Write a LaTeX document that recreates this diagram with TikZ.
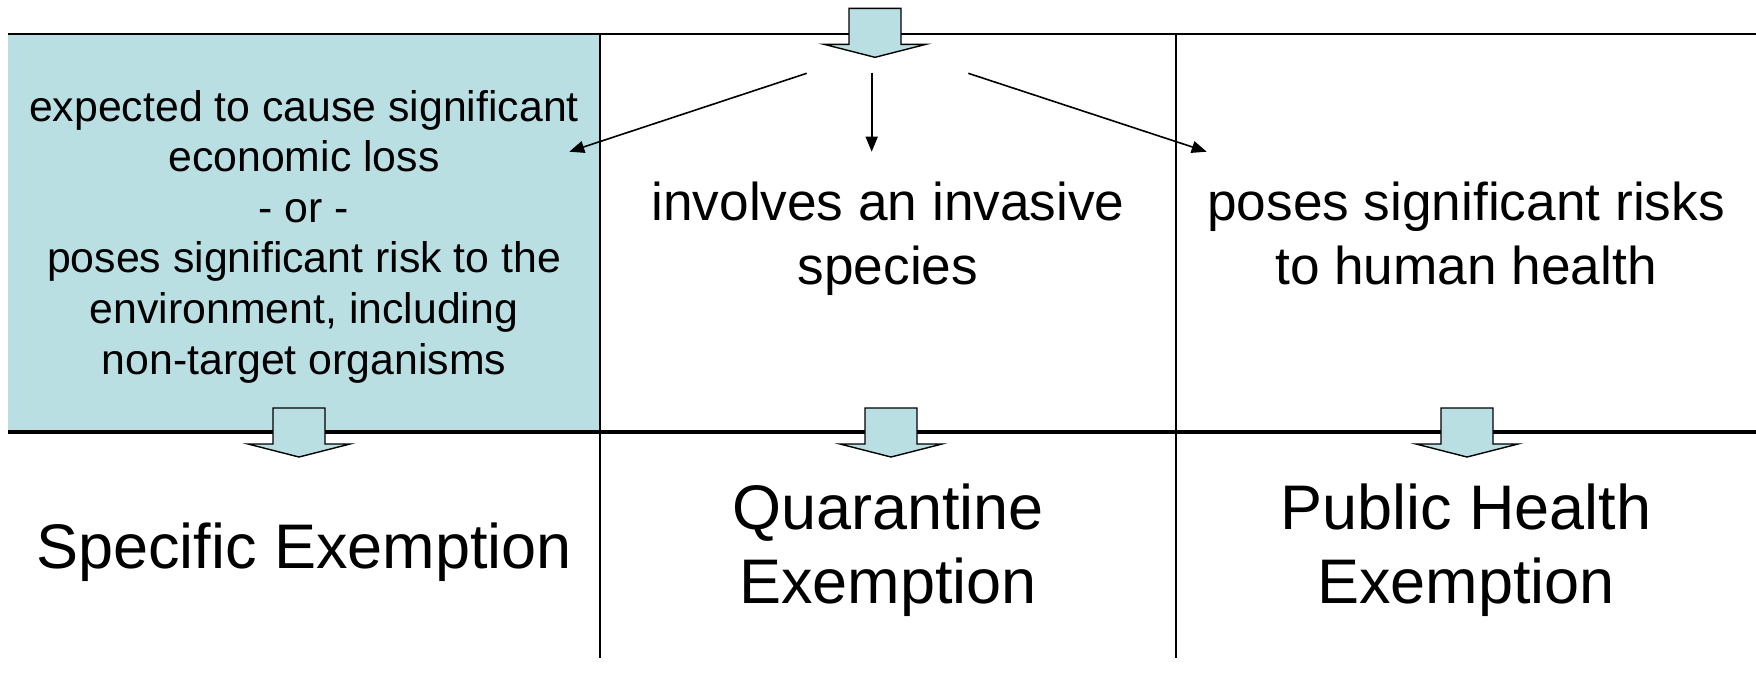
\documentclass[tikz,border=0pt]{standalone}
\usepackage{fontspec}
\setmainfont{Liberation Sans}
\usetikzlibrary{arrows.meta}
\definecolor{boxteal}{RGB}{185,223,227}
\begin{document}
\begin{tikzpicture}[x=0.5pt,y=-0.5pt,
  blockarrow/.style={draw=black, line width=0.7pt, fill=boxteal, line join=miter},
  thinarrow/.style={line width=0.8pt, -{Triangle[length=7.5pt,width=6pt]}},
  gridline/.style={line width=1pt},
  midline/.style={line width=2.4pt},
  smalltext/.style={align=center, inner sep=0pt, font=\fontsize{21.4pt}{25.3pt}\selectfont},
  midtext/.style={align=center, inner sep=0pt, font=\fontsize{26.6pt}{32pt}\selectfont},
  bigtext/.style={align=center, inner sep=0pt, font=\fontsize{31.5pt}{37pt}\selectfont}]
\useasboundingbox (0,0) rectangle (1756,677);
% teal box
\fill[boxteal] (8,34) rectangle (600,432);
% grid
\draw[gridline] (8,34) -- (1756,34);
\draw[gridline] (600,34) -- (600,658);
\draw[gridline] (1176,34) -- (1176,658);
\draw[midline] (8,432) -- (1756,432);
% block arrows
\foreach \cx/\ty in {875/8.3, 299/408, 891/408, 1467/408}{
  \draw[blockarrow] (\cx-26,\ty) -- (\cx+26,\ty) -- (\cx+26,\ty+36) -- (\cx+51,\ty+36)
     -- (\cx,\ty+49) -- (\cx-51,\ty+36) -- (\cx-26,\ty+36) -- cycle;
}
% texts
\node[smalltext] (econ) at (304,236.5) {expected to cause significant\\economic loss\\- or -\\poses significant risk to the\\environment, including\\non-target organisms};
\node[midtext] (inv) at (888,240) {\strut involves an invasive\\\strut species};
\node[midtext] (hum) at (1466,240) {\strut poses significant risks\\\strut to human health};
\node[bigtext] (spec) at (304,552) {Specific Exemption};
\node[bigtext] (quar) at (888,550.5) {Quarantine\\Exemption};
\node[bigtext] (pub) at (1466,550.5) {Public Health\\Exemption};
% thin arrows
\coordinate (sL) at (806.7,73.3);
\coordinate (eL) at (569.3,151.7);
\coordinate (sM) at (871.7,72.7);
\coordinate (eM) at (871.7,151.7);
\coordinate (sR) at (968.3,73.3);
\coordinate (eR) at (1206.7,151.7);
\draw[thinarrow] (sL) -- (eL);
\draw[thinarrow] (sM) -- (eM);
\draw[thinarrow] (sR) -- (eR);
\end{tikzpicture}
\end{document}
